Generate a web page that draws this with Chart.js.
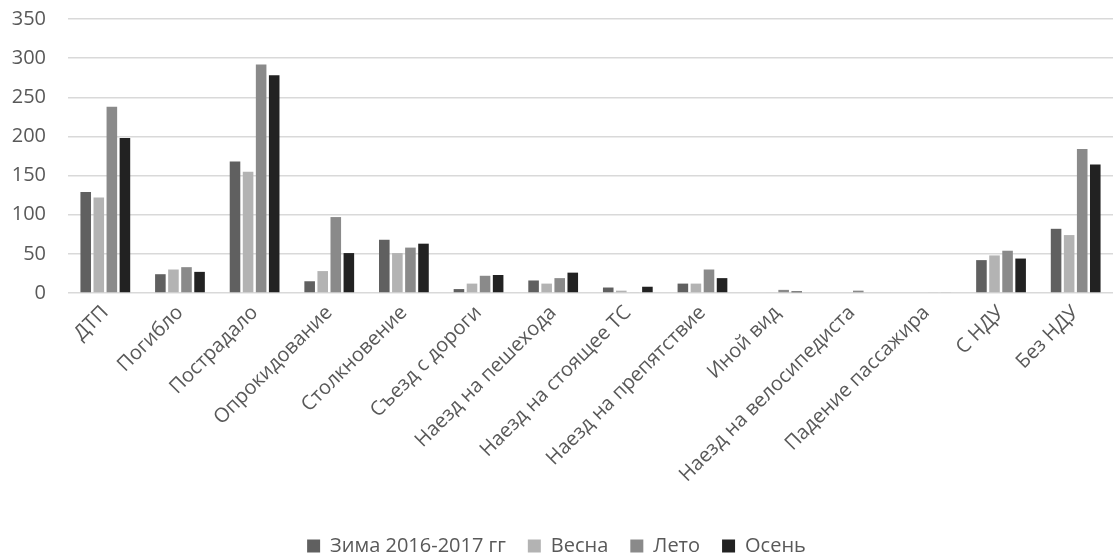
<!DOCTYPE html>
<html>
<head>
<meta charset="utf-8">
<script src="https://cdn.jsdelivr.net/npm/chart.js@4/dist/chart.umd.min.js"></script>
<style>
  html, body { margin: 0; padding: 0; background: #fff; }
  #wrap { width: 1113px; height: 557px; position: relative; }
</style>
</head>
<body>
<div id="wrap"><canvas id="c" width="1113" height="557"></canvas></div>
<script>
const categories = [
  'ДТП', 'Погибло', 'Пострадало', 'Опрокидование', 'Столкновение',
  'Съезд с дороги', 'Наезд на пешехода', 'Наезд на стоящее ТС',
  'Наезд на препятствие', 'Иной вид', 'Наезд на велосипедиста',
  'Падение пассажира', 'С НДУ', 'Без НДУ'
];
const winter = [129, 24, 168, 15, 68, 5, 16, 7, 12, 0, 0, 0, 42, 82];
const spring = [122, 30, 155, 28, 51, 12, 12, 3, 12, 1, 0, 0, 48, 74];
const summer = [238, 33, 292, 97, 58, 22, 19, 1, 30, 4, 3, 1, 54, 184];
const autumn = [198, 27, 278, 51, 63, 23, 26, 8, 19, 2, 0, 1, 44, 164];
const seriesNames = ['Зима 2016-2017 гг', 'Весна', 'Лето', 'Осень'];
const seriesColors = ['#606060', '#b3b3b3', '#8a8a8a', '#222222'];
const yTicks = [0, 50, 100, 150, 200, 250, 300, 350];

const FONT = "'Open Sans', 'DejaVu Sans', sans-serif";
const TEXT = '#595959';

const seriesValues = [winter, spring, summer, autumn];
const datasets = seriesNames.map((name, i) => ({
  label: name,
  data: seriesValues[i],
  backgroundColor: seriesColors[i],
  borderWidth: 0,
  categoryPercentage: 0.70,
  barPercentage: 0.81
}));

new Chart(document.getElementById('c'), {
  type: 'bar',
  data: { labels: categories, datasets },
  options: {
    responsive: false,
    animation: false,
    layout: { padding: { top: 19, right: 0, bottom: -9, left: 0 } },
    plugins: {
      tooltip: { enabled: false },
      legend: {
        position: 'bottom',
        labels: {
          font: { family: FONT, size: 20 },
          color: TEXT,
          boxWidth: 13,
          boxHeight: 13,
          padding: 22
        }
      }
    },
    scales: {
      x: {
        grid: { display: false },
        border: { display: false },
        ticks: {
          font: { family: FONT, size: 20 },
          color: TEXT,
          minRotation: 45,
          maxRotation: 45,
          autoSkip: false,
          padding: 0
        },
        afterFit: (s) => { s.height = 221; s.paddingLeft = 0; s.paddingRight = 0; }
      },
      y: {
        min: 0,
        max: 350,
        afterBuildTicks: (s) => { s.ticks = yTicks.map(v => ({ value: v })); },
        grid: { color: '#d9d9d9', lineWidth: 1.5, drawTicks: false },
        border: { display: false },
        ticks: {
          font: { family: FONT, size: 20 },
          color: TEXT,
          padding: 22
        },
        afterFit: (s) => { s.width = 68; s.paddingTop = 0; s.paddingBottom = 0; }
      }
    }
  }
});
</script>
</body>
</html>
